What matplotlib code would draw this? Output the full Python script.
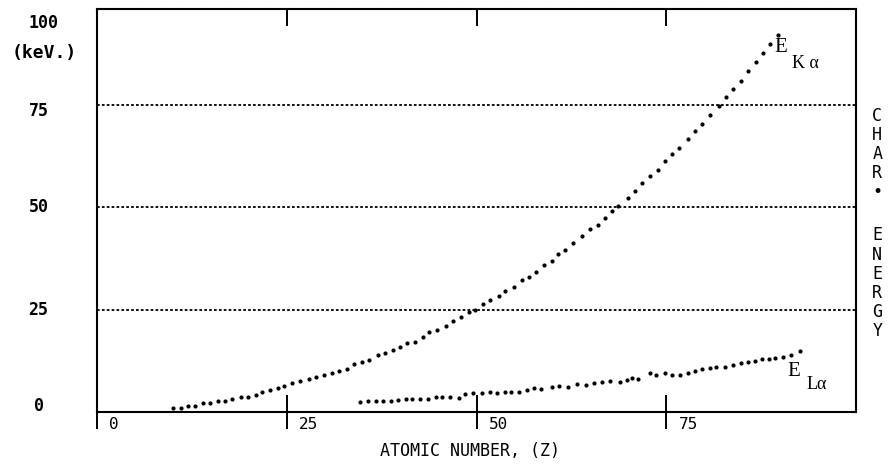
import matplotlib
matplotlib.use('Agg')
import matplotlib.pyplot as plt

# atomic number Z and characteristic energy (keV)
z_ka = [10.0, 11.1, 12.0, 12.9, 14.0, 14.9, 15.9, 16.9, 17.8, 19.0,
        19.9, 20.9, 21.7, 22.8, 23.8, 24.6, 25.7, 26.7, 27.9, 28.9,
        29.9, 31.0, 31.9, 32.9, 33.9, 34.9, 35.8, 37.0, 37.9, 39.0,
        39.9, 40.9, 41.9, 42.9, 43.8, 44.8, 46.0, 46.9, 48.0, 49.0,
        49.8, 50.8, 51.8, 52.9, 53.8, 54.9, 56.0, 56.9, 57.9, 58.9,
        59.9, 60.8, 61.7, 62.7, 63.9, 64.9, 66.0, 66.9, 67.9, 68.7,
        69.9, 70.9, 71.8, 72.9, 73.9, 74.8, 75.8, 76.7, 77.8, 78.8,
        79.7, 80.7, 81.9, 82.9, 83.8, 84.9, 85.8, 86.8, 87.7, 88.7, 89.7]
e_ka = [1.0, 1.0, 1.5, 1.5, 2.2, 2.2, 2.7, 2.7, 3.2, 3.7,
        3.7, 4.1, 4.9, 5.4, 5.9, 6.3, 7.1, 7.6, 8.0, 8.5,
        9.0, 9.5, 10.0, 10.5, 11.7, 12.2, 12.7, 13.9, 14.4, 15.1,
        15.9, 16.9, 17.2, 18.4, 19.4, 20.0, 21.0, 22.2, 23.2, 24.4,
        25.0, 26.3, 27.3, 28.4, 29.4, 30.5, 32.1, 33.0, 34.1, 35.9,
        36.9, 38.5, 39.6, 41.2, 43.0, 44.7, 45.7, 47.4, 49.0, 50.2,
        52.1, 53.8, 55.9, 57.6, 59.0, 61.2, 62.9, 64.4, 66.6, 68.6,
        70.2, 72.4, 74.6, 76.8, 78.8, 80.8, 83.1, 85.5, 87.6, 89.7, 91.9]

z_la = [34.7, 35.7, 36.7, 37.7, 38.7, 39.7, 40.7, 41.5, 42.6, 43.6,
        44.6, 45.5, 46.5, 47.7, 48.5, 49.6, 50.7, 51.8, 52.7, 53.7,
        54.6, 55.6, 56.6, 57.6, 58.5, 60.0, 60.9, 62.1, 63.2, 64.4,
        65.5, 66.5, 67.6, 68.9, 69.8, 70.5, 71.3, 72.8, 73.7, 74.8,
        75.7, 76.8, 77.9, 78.8, 79.7, 80.8, 81.6, 82.7, 83.8, 84.9,
        85.8, 86.7, 87.6, 88.5, 89.3, 90.4, 91.5, 92.6]
e_la = [2.4, 2.8, 2.7, 2.7, 2.7, 3.0, 3.2, 3.2, 3.2, 3.2,
        3.7, 3.7, 3.7, 3.4, 4.3, 4.6, 4.6, 5.0, 4.6, 5.0,
        5.0, 5.0, 5.4, 5.9, 5.7, 6.2, 6.4, 6.1, 6.8, 6.7,
        7.0, 7.2, 7.6, 7.4, 7.7, 8.4, 8.0, 9.4, 9.0, 9.4,
        9.0, 9.1, 9.6, 10.1, 10.4, 10.7, 10.9, 10.9, 11.5, 11.9,
        12.1, 12.5, 12.9, 12.9, 13.2, 13.5, 13.8, 15.0]

x_ticks = [0, 25, 50, 75]
y_ticks = [0, 25, 50, 75]
grid_y = [25, 50, 75]

mono = 'DejaVu Sans Mono'
serif = 'Liberation Serif'

fig = plt.figure(figsize=(8.94, 4.70), dpi=100)
ax = fig.add_axes([0.1085, 0.1234, 0.849, 0.8564])
ax.set_xlim(0, 100)
ax.set_ylim(0, 98.2)

for gy in grid_y:
    ax.axhline(gy, color='black', lw=1.3, ls=(0, (1.5, 1.2)), zorder=1)

ax.plot(z_ka, e_ka, ls='none', marker='o', ms=2.0, color='black', zorder=3)
ax.plot(z_la, e_la, ls='none', marker='o', ms=2.0, color='black', zorder=3)

for s in ax.spines.values():
    s.set_color('black')
    s.set_linewidth(1.5)
ax.spines['top'].set_linestyle((0, (2, 0.8)))

# bottom ticks cross the axis, labels drawn separately to the right of them
ax.set_xticks(x_ticks)
ax.tick_params(axis='x', direction='inout', length=24, width=1.4,
               labelbottom=False)
ax.set_yticks([])

# top ticks: shorter, pointing in
for xt in x_ticks[1:]:
    ax.plot([xt, xt], [98.2, 94.5], color='black', lw=1.4, clip_on=False)

xtr = ax.get_xaxis_transform()
for xt in x_ticks:
    ax.text(xt + 1.6, -0.031, str(xt), transform=xtr, ha='left', va='center',
            fontsize=11.5, family=mono)

ytr = ax.get_yaxis_transform()
for yt in y_ticks:
    off = -1.5 if yt == 75 else (1.5 if yt == 0 else 0)
    ax.text(-0.077, yt + off, str(yt), transform=ytr, ha='center', va='center',
            fontsize=12, family=mono, fontweight='bold')
ax.text(-0.071, 0.966, '100', transform=ax.transAxes, ha='center', va='center',
        fontsize=12, family=mono, fontweight='bold')
ax.text(-0.07, 0.892, '(keV.)', transform=ax.transAxes, ha='center', va='center',
        fontsize=13, family=mono, fontweight='bold')

ax.text(0.491, -0.097, 'ATOMIC NUMBER, (Z)', transform=ax.transAxes, ha='center',
        va='center', fontsize=12, family=mono)

ax.text(1.028, 0.758, '\n'.join('CHAR•'), transform=ax.transAxes, ha='center',
        va='top', fontsize=12, family=mono, linespacing=1.08)
ax.text(1.028, 0.461, '\n'.join('ENERGY'), transform=ax.transAxes, ha='center',
        va='top', fontsize=12, family=mono, linespacing=1.08)

ax.text(89.3, 88.9, 'E', fontsize=15, family=serif, ha='left', va='center')
ax.text(91.6, 85.1, 'K α', fontsize=13, family=serif, ha='left', va='center')
ax.text(91.0, 10.0, 'E', fontsize=15, family=serif, ha='left', va='center')
ax.text(93.5, 6.8, 'Lα', fontsize=13, family=serif, ha='left', va='center')

plt.savefig('out.png', dpi=100)
